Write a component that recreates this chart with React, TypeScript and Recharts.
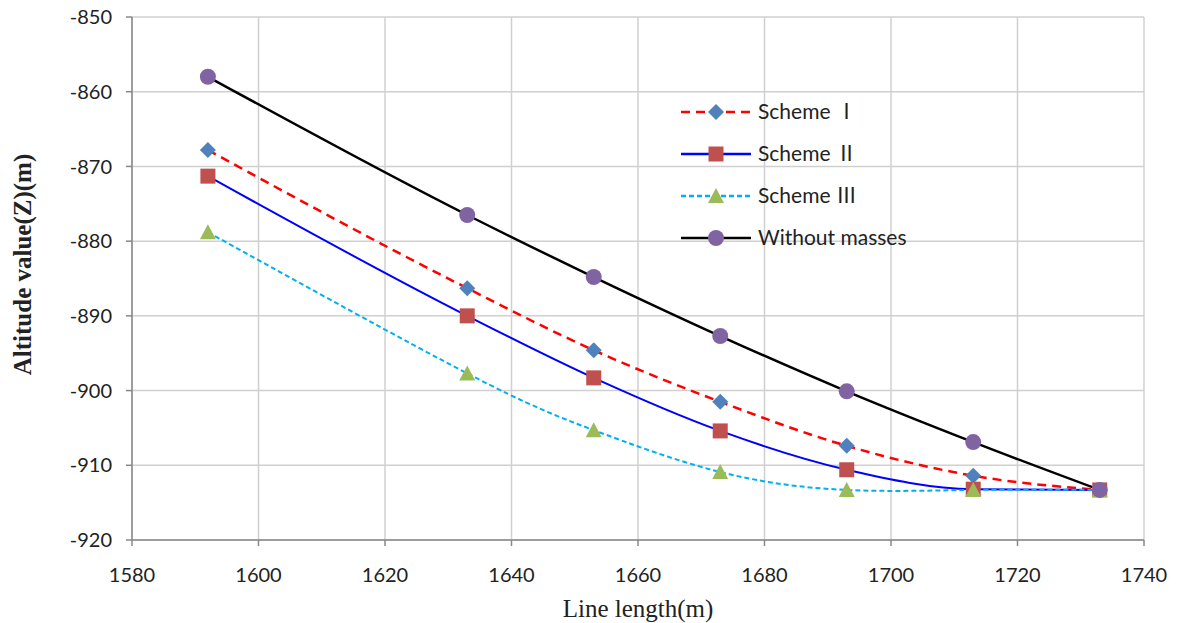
import React from "react";
import { LineChart, Line, XAxis, YAxis, CartesianGrid } from "recharts";

const lengths = [1592, 1633, 1653, 1673, 1693, 1713, 1733];
const schemeI = [-867.8, -886.3, -894.6, -901.5, -907.4, -911.4, -913.3];
const schemeII = [-871.3, -890.0, -898.3, -905.4, -910.6, -913.2, -913.3];
const schemeIII = [-878.8, -897.7, -905.3, -910.9, -913.3, -913.3, -913.3];
const withoutMasses = [-858.0, -876.5, -884.8, -892.7, -900.1, -906.9, -913.3];
const xTicks = [1580, 1600, 1620, 1640, 1660, 1680, 1700, 1720, 1740];
const yTicks = [-920, -910, -900, -890, -880, -870, -860, -850];
const seriesNames = ["Scheme Ⅰ", "Scheme Ⅱ", "Scheme Ⅲ", "Without masses"];
const xTitle = "Line length(m)";
const yTitle = "Altitude value(Z)(m)";

const data = lengths.map((x, i) => ({
  x,
  s1: schemeI[i],
  s2: schemeII[i],
  s3: schemeIII[i],
  wm: withoutMasses[i],
}));

const Diamond = (props: any) => {
  const { cx, cy } = props;
  if (cx == null || cy == null) return null;
  const r = 8;
  return <path d={`M${cx},${cy - r}L${cx + r},${cy}L${cx},${cy + r}L${cx - r},${cy}Z`} fill="#4F81BD" />;
};
const Square = (props: any) => {
  const { cx, cy } = props;
  if (cx == null || cy == null) return null;
  return <rect x={cx - 7.5} y={cy - 7.5} width={15} height={15} fill="#C0504D" />;
};
const Triangle = (props: any) => {
  const { cx, cy } = props;
  if (cx == null || cy == null) return null;
  return <path d={`M${cx},${cy - 8}L${cx + 8},${cy + 7}L${cx - 8},${cy + 7}Z`} fill="#9BBB59" />;
};
const Circle = (props: any) => {
  const { cx, cy } = props;
  if (cx == null || cy == null) return null;
  return <circle cx={cx} cy={cy} r={8} fill="#8064A2" />;
};

const legendItems = [
  { name: seriesNames[0], color: "#FF0000", dash: "9 6", marker: "d" },
  { name: seriesNames[1], color: "#0000FF", dash: undefined, marker: "s" },
  { name: seriesNames[2], color: "#00B0F0", dash: "5 3", marker: "t" },
  { name: seriesNames[3], color: "#000000", dash: undefined, marker: "c" },
];

const LegendBox = () => (
  <svg width={320} height={170} style={{ position: "absolute", left: 670, top: 90 }}>
    {legendItems.map((it, i) => {
      const y = 22 + i * 42;
      const cx = 46;
      let m: any = null;
      if (it.marker === "d") m = <Diamond cx={cx} cy={y} />;
      if (it.marker === "s") m = <Square cx={cx} cy={y} />;
      if (it.marker === "t") m = <Triangle cx={cx} cy={y} />;
      if (it.marker === "c") m = <Circle cx={cx} cy={y} />;
      return (
        <g key={i}>
          <line x1={11} x2={81} y1={y} y2={y} stroke={it.color} strokeWidth={2.5} strokeDasharray={it.dash} />
          {m}
          <text x={88} y={y + 7} fontFamily="Lato, 'Noto Sans CJK SC', sans-serif" fontSize={21} fill="#222">
            {it.name}
          </text>
        </g>
      );
    })}
  </svg>
);

const tickFont = { fontFamily: "Lato, 'Liberation Sans', sans-serif", fontSize: 20, fill: "#222" };

const YTitle = (props: any) => {
  const vb = props.viewBox || { y: 17, height: 523 };
  const cy = vb.y + vb.height / 2 - 14;
  return (
    <text
      x={22}
      y={cy}
      transform={`rotate(-90, 22, ${cy})`}
      textAnchor="middle"
      dominantBaseline="central"
      fontFamily="'Liberation Serif', serif"
      fontWeight="bold"
      fontSize={25}
      fill="#222"
    >
      {yTitle}
    </text>
  );
};

export default function App() {
  return (
    <div style={{ position: "absolute", left: 0, top: 0, width: 1180, height: 623, background: "#fff" }}>
      <LineChart width={1180} height={623} data={data} margin={{ top: 17, right: 36, bottom: 0, left: 0 }}>
        <CartesianGrid stroke="#D0D0D0" strokeWidth={1.5} />
        <XAxis
          dataKey="x"
          type="number"
          domain={[1580, 1740]}
          ticks={xTicks}
          height={83}
          stroke="#888"
          strokeWidth={1.5}
          tickSize={6}
          tick={tickFont}
          tickMargin={22}
          label={{
            value: xTitle,
            position: "insideBottom",
            offset: 6,
            style: { fontFamily: "'Liberation Serif', serif", fontSize: 25, fill: "#222" },
          }}
        />
        <YAxis
          type="number"
          domain={[-920, -850]}
          ticks={yTicks}
          width={132}
          stroke="#888"
          strokeWidth={1.5}
          tickSize={6}
          tick={tickFont}
          tickMargin={14}
          label={<YTitle />}
        />
        <Line dataKey="s1" type="monotone" stroke="#FF0000" strokeWidth={2.5} strokeDasharray="9 6" dot={<Diamond />} activeDot={false} isAnimationActive={false} />
        <Line dataKey="s2" type="monotone" stroke="#0000FF" strokeWidth={2} dot={<Square />} activeDot={false} isAnimationActive={false} />
        <Line dataKey="s3" type="natural" stroke="#00B0F0" strokeWidth={2} strokeDasharray="5 3" dot={<Triangle />} activeDot={false} isAnimationActive={false} />
        <Line dataKey="wm" type="monotone" stroke="#000000" strokeWidth={2.5} dot={<Circle />} activeDot={false} isAnimationActive={false} />
      </LineChart>
      <LegendBox />
    </div>
  );
}
